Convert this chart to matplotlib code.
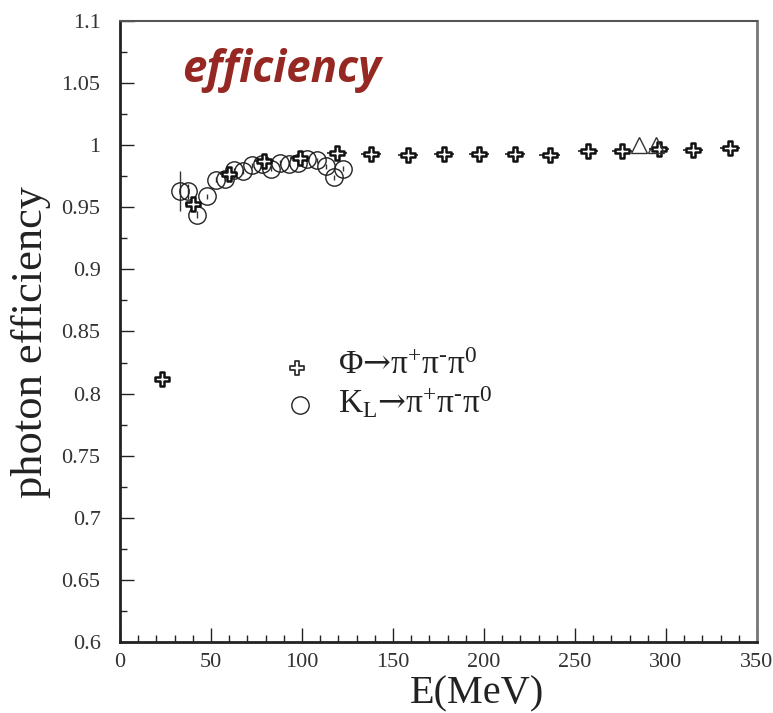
import matplotlib
matplotlib.use("Agg")
import matplotlib.pyplot as plt
from matplotlib.path import Path
import numpy as np

plt.rcParams['mathtext.fontset'] = 'custom'
plt.rcParams['mathtext.rm'] = 'Liberation Serif'
plt.rcParams['mathtext.it'] = 'Liberation Serif:italic'
plt.rcParams['mathtext.bf'] = 'Liberation Serif:bold'
plt.rcParams['mathtext.sf'] = 'DejaVu Serif'
plt.rcParams['mathtext.fallback'] = 'stix'
plt.rcParams['font.family'] = ['Liberation Serif', 'DejaVu Serif']

# Phi -> pi+ pi- pi0 (open crosses)
phi_E = [23, 40, 60, 79, 99, 119, 138, 158, 178, 197, 217, 236, 257, 276, 296, 315, 335]
phi_eff = [0.812, 0.953, 0.977, 0.987, 0.990, 0.994, 0.993, 0.992, 0.993, 0.993,
           0.993, 0.992, 0.995, 0.995, 0.997, 0.996, 0.998]
phi_xerr = [2.5, 4.5, 5, 5.5, 5.5, 5.5, 5.5, 5.5, 5.5, 5.5, 5.5, 5.5, 5.5, 5.5, 5.5, 5.5, 5.5]

# K_L -> pi+ pi- pi0 (open circles)
kl_E = [33, 37.5, 42.5, 47.6, 52.6, 57.7, 62.8, 67.7, 72.7, 77.8, 83, 88, 93, 98,
        103, 108, 113, 117.6, 122.7]
kl_eff = [0.963, 0.963, 0.944, 0.959, 0.972, 0.973, 0.980, 0.979, 0.984, 0.985,
          0.981, 0.986, 0.985, 0.986, 0.989, 0.988, 0.983, 0.974, 0.981]
kl_yerr = [0.016, 0.006, 0.003, 0.002, 0.002, 0.002, 0.002, 0.002, 0.002, 0.002,
           0.002, 0.002, 0.002, 0.002, 0.002, 0.002, 0.002, 0.002, 0.002]

# extra open triangles
tri_E = [285, 294.5]
tri_eff = [1.0, 1.0]

x_ticks = [0, 50, 100, 150, 200, 250, 300, 350]
x_ticklabels = ['0', '50', '100', '150', '200', '250', '300', '350']
y_ticks = [0.6, 0.65, 0.7, 0.75, 0.8, 0.85, 0.9, 0.95, 1.0, 1.05, 1.1]
y_ticklabels = ['0.6', '0.65', '0.7', '0.75', '0.8', '0.85', '0.9', '0.95', '1', '1.05', '1.1']

# outlined plus marker
a, b = 0.33, 1.0
verts = [(-a, b), (a, b), (a, a), (b, a), (b, -a), (a, -a), (a, -b), (-a, -b),
         (-a, -a), (-b, -a), (-b, a), (-a, a), (-a, b)]
codes = [Path.MOVETO] + [Path.LINETO] * 11 + [Path.CLOSEPOLY]
cross = Path(verts, codes)

fig = plt.figure(figsize=(7.73, 7.13), dpi=100)
ax = fig.add_axes([0.1552, 0.0996, 0.8241, 0.8710])

ax.errorbar(kl_E, kl_eff, yerr=kl_yerr, fmt='none', ecolor='#333333', elinewidth=1.0, zorder=2)
ax.plot(kl_E, kl_eff, linestyle='none', marker='o', markersize=12.5,
        markerfacecolor='none', markeredgecolor='#222222', markeredgewidth=1.0, zorder=3)

ax.errorbar(phi_E, phi_eff, xerr=phi_xerr, fmt='none', ecolor='#222222', elinewidth=1.2, zorder=4)
ax.plot(phi_E, phi_eff, linestyle='none', marker=cross, markersize=9.5,
        markerfacecolor='white', markeredgecolor='#111111', markeredgewidth=1.8, zorder=5)

ax.plot(tri_E, tri_eff, linestyle='none', marker='^', markersize=11,
        markerfacecolor='none', markeredgecolor='#333333', markeredgewidth=1.0, zorder=6)

ax.set_xlim(0, 350)
ax.set_ylim(0.6, 1.1)
ax.set_xticks(x_ticks)
ax.set_xticklabels(x_ticklabels)
ax.set_yticks(y_ticks)
ax.set_yticklabels(y_ticklabels)
ax.set_xticks(np.arange(0, 351, 10), minor=True)
ax.set_yticks(np.arange(0.6, 1.1001, 0.025), minor=True)
ax.tick_params(axis='both', which='both', direction='in', labelsize=16, colors='#222222')
ax.tick_params(axis='both', which='major', length=10, width=1.0)
ax.tick_params(axis='both', which='minor', length=5, width=1.0)
ax.tick_params(axis='x', pad=8)
ax.tick_params(axis='y', pad=14)
for lab in ax.get_xticklabels() + ax.get_yticklabels():
    lab.set_color('#333333')

ax.spines['left'].set_linewidth(2.0)
ax.spines['bottom'].set_linewidth(2.0)
ax.spines['left'].set_color('#222222')
ax.spines['bottom'].set_color('#222222')
ax.spines['top'].set_linewidth(1.5)
ax.spines['right'].set_linewidth(2.0)
ax.spines['top'].set_color('#555555')
ax.spines['right'].set_color('#777777')

ax.set_xlabel('E(MeV)', fontsize=29, color='#222222')
ax.xaxis.set_label_coords(0.56, -0.054)
ax.set_ylabel('photon efficiency', fontsize=32, color='#222222')
ax.yaxis.set_label_coords(-0.108, 0.483)

# "efficiency" annotation
ax.text(0.097, 0.92, 'efficiency', transform=ax.transAxes, fontsize=31.5,
        fontweight='bold', fontstyle='italic', color='#962823',
        family=['Open Sans', 'DejaVu Sans'], va='center', ha='left')

# legend
ax.plot([0.278], [0.441], transform=ax.transAxes, linestyle='none', marker=cross,
        markersize=10, markerfacecolor='white', markeredgecolor='#333333', markeredgewidth=1.3)
ax.plot([0.283], [0.382], transform=ax.transAxes, linestyle='none', marker='o',
        markersize=12.5, markerfacecolor='none', markeredgecolor='#222222', markeredgewidth=1.0)
ax.text(0.343, 0.445, r'$\mathrm{Φ}\mathsf{→}\mathrm{π^{+}π^{\text{-}}π^{0}}$', transform=ax.transAxes,
        fontsize=24, va='center', ha='left', color='#222222')
ax.text(0.343, 0.386, r'$\mathrm{K_{L}}\mathsf{→}\mathrm{π^{+}π^{\text{-}}π^{0}}$', transform=ax.transAxes,
        fontsize=24, va='center', ha='left', color='#222222')

fig.savefig('out.png', dpi=100)
